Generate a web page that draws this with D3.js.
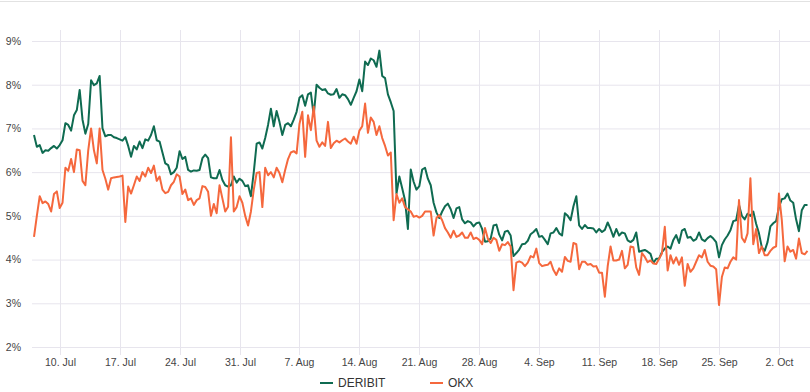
<!DOCTYPE html>
<html>
<head>
<meta charset="utf-8">
<script src="https://cdn.jsdelivr.net/npm/d3@7/dist/d3.min.js"></script>
<style>
  body { margin: 0; background: #fff; }
  svg { display: block; font-family: "Liberation Sans", Arial, sans-serif; }
  .grid line { stroke: #e7e5ed; stroke-width: 1; }
  .axis .domain { display: none; }
  .axis line { stroke: #e7e5ed; }
  .axis text { fill: #444; font-size: 10.5px; }
  .legend text { fill: #333; font-size: 12px; }
</style>
</head>
<body>
<div id="output-section"></div>
<script>
// series start, one value every 8 hours
const startDate = "2023-07-07 00:00";
const stepHours = 8;

const tickDates = ["2023-07-10", "2023-07-17", "2023-07-24", "2023-07-31", "2023-08-07",
  "2023-08-14", "2023-08-21", "2023-08-28", "2023-09-04", "2023-09-11", "2023-09-18",
  "2023-09-25", "2023-10-02"];
const yTicks = [2, 3, 4, 5, 6, 7, 8, 9];

const seriesNames = ["DERIBIT", "OKX"];
const seriesColors = ["#0f6b51", "#f5683d"];

// one row per week
const deribit = [
  6.85,6.58,6.62, 6.44,6.50,6.49, 6.55,6.60,6.54, 6.62,6.73,7.12, 7.08,6.95,7.30, 7.42,7.88,7.20, 6.88,7.10,8.10,
  7.99,8.03,8.20, 7.00,6.82,6.85, 6.85,6.80,6.78, 6.75,6.72,6.80, 6.60,6.35,6.60, 6.52,6.70,6.55, 6.75,6.72,6.85,
  7.05,6.73,6.70, 6.45,6.20,6.16, 5.95,6.00,6.10, 6.48,6.30,6.35, 6.05,6.01,6.04, 6.03,6.05,6.32, 6.40,6.32,5.88,
  5.86,5.86,6.05, 5.82,5.70,5.67, 5.70,5.90,5.76, 5.85,5.80,5.68, 5.70,5.45,6.00, 6.65,6.68,6.54, 6.78,7.08,7.45,
  7.05,7.40,7.15, 6.85,7.08,7.12, 7.05,7.20,7.38, 7.70,7.76,7.52, 7.78,7.82,7.30, 8.00,7.93,7.88, 7.90,7.80,7.77,
  7.78,7.90,7.70, 7.78,7.76,7.67, 7.54,7.70,7.85, 8.12,7.85,8.53, 8.45,8.60,8.56, 8.41,8.78,8.20, 8.15,7.78,7.60,
  7.40,5.51,5.90, 5.63,5.35,4.70, 6.06,5.78,5.60, 5.68,6.06,6.10, 5.85,5.70,5.30, 5.08,4.95,5.10, 5.22,5.28,5.15,
  4.95,5.17,5.20, 4.92,4.83,4.88, 4.85,4.76,4.83, 4.85,4.70,4.41, 4.42,4.48,4.78, 4.80,4.57,4.44, 4.64,4.66,4.55,
  4.08,4.15,4.23, 4.35,4.36,4.43, 4.58,4.63,4.70, 4.52,4.54,4.45, 4.35,4.60,4.62, 4.72,4.60,4.55, 5.06,5.00,4.90,
  5.22,5.45,4.78, 4.70,4.79,4.72, 4.72,4.71,4.62, 4.70,4.63,4.68, 4.85,4.70,4.52, 4.70,4.55,4.62, 4.60,4.44,4.40,
  4.45,4.62,4.18, 4.20,4.22,4.18, 4.13,3.92,4.02, 4.02,4.17,4.25, 4.30,4.25,4.45, 4.56,4.38,4.66, 4.70,4.50,4.52,
  4.43,4.47,4.62, 4.46,4.42,4.49, 4.54,4.48,4.40, 4.05,4.33,4.46, 4.55,4.67,4.88, 4.90,5.25,5.00, 4.92,5.05,5.00,
  5.10,4.82,4.60, 4.28,4.20,4.40, 4.76,4.83,4.88, 5.20,5.38,5.40, 5.51,5.35,5.30, 4.92,4.65,5.13, 5.25,5.25
];

const okx = [
  4.52,5.00,5.45, 5.29,5.33,5.27, 5.10,5.50,5.56, 5.18,5.30,6.10, 6.03,6.30,6.00, 6.52,6.50,5.80, 5.70,6.50,7.00,
  6.50,6.20,7.00, 6.05,5.85,5.60, 5.86,5.88,5.89, 5.90,5.92,4.86, 5.67,5.51,5.70, 5.90,5.80,6.00, 5.90,6.10,5.98,
  6.15,5.80,5.90, 5.60,5.52,5.55, 5.70,5.78,5.95, 5.90,5.50,5.60, 5.36,5.40,5.25, 5.36,5.40,5.68, 5.66,5.55,5.00,
  5.27,5.06,5.70, 5.40,5.10,5.21, 6.80,5.10,5.20, 5.45,5.30,5.00, 4.78,5.10,5.60, 5.98,6.00,5.20, 6.10,5.93,6.00,
  5.88,6.10,5.98, 5.77,6.05,6.30, 6.45,6.48,6.43, 7.10,7.38,6.35, 7.30,6.96,7.50, 6.72,6.58,6.68, 6.60,7.15,6.55,
  6.66,6.72,6.68, 6.73,6.77,6.70, 6.65,6.81,6.65, 6.95,7.05,7.57, 6.90,7.25,7.15, 6.85,7.05,6.78, 6.60,6.38,6.45,
  4.90,5.50,5.30, 5.40,5.20,5.15, 5.10,4.98,5.00, 4.96,5.00,5.10, 5.10,5.10,4.55, 4.95,5.02,4.90, 4.72,4.62,4.50,
  4.66,4.52,4.55, 4.62,4.50,4.50, 4.62,4.47,4.50, 4.45,4.35,4.72, 4.48,4.38,4.50, 4.45,4.20,4.35, 4.33,4.40,4.30,
  3.30,3.93,3.96, 3.93,3.85,3.93, 4.08,4.05,4.25, 3.92,3.85,3.87, 3.88,3.95,3.76, 3.65,3.80,3.72, 4.06,3.97,3.95,
  4.38,4.35,3.78, 3.95,3.95,3.88, 3.90,3.84,3.85, 3.70,3.70,3.15, 3.85,4.30,3.98, 3.98,4.00,4.20, 3.80,3.88,4.30,
  4.28,3.82,3.65, 4.15,4.06,3.94, 3.98,3.91,3.90, 4.02,4.14,4.75, 3.75,4.10,3.91, 4.05,3.88,4.05, 3.40,3.90,3.72,
  3.80,3.95,4.10, 4.05,4.22,3.95, 3.86,3.84,3.78, 2.96,3.60,3.82, 3.80,3.95,4.05, 4.00,5.36,4.50, 4.40,4.60,5.86,
  4.35,4.70,4.15, 4.30,4.10,4.10, 4.20,4.27,4.30, 5.51,4.90,3.96, 4.30,4.18,4.22, 4.02,4.48,4.15, 4.12,4.20
];

function plotChart(){
  let svg = d3.select("#output-section").append("svg")
    .attr("width", 810)
    .attr("height", 392);

  svg.append("rect")
    .attr("width", "100%")
    .attr("height", "100%")
    .attr("fill", "white");

  // faint frame line on top
  svg.append("line")
    .attr("x1", 0).attr("x2", 810)
    .attr("y1", 1.5).attr("y2", 1.5)
    .attr("stroke", "#e2e2e2");

  let plot = { left: 32, right: 810, top: 30, bottom: 347 };

  let t0 = d3.timeParse("%Y-%m-%d %H:%M")(startDate);
  let dates = deribit.map((d, i) => d3.timeHour.offset(t0, i * stepHours));
  let ticks = tickDates.map(d3.timeParse("%Y-%m-%d"));

  let x = d3.scaleTime()
    .domain(d3.extent(dates))
    .range([34, 807.5]);
  let y = d3.scaleLinear()
    .domain([2, 9])
    .range([347, 41]);

  // horizontal grid
  svg.append("g")
    .attr("class", "grid")
    .selectAll("line")
    .data(yTicks)
    .enter().append("line")
      .attr("x1", plot.left)
      .attr("x2", plot.right)
      .attr("y1", d => y(d) + 0.5)
      .attr("y2", d => y(d) + 0.5)
      .attr("stroke", d => d === 2 ? "#dddbe5" : null);

  // vertical grid
  svg.append("g")
    .attr("class", "grid")
    .selectAll("line")
    .data(ticks)
    .enter().append("line")
      .attr("x1", d => Math.round(x(d)) + 0.5)
      .attr("x2", d => Math.round(x(d)) + 0.5)
      .attr("y1", plot.top)
      .attr("y2", plot.bottom);

  // x axis
  svg.append("g")
    .attr("class", "axis axis--x")
    .attr("transform", "translate(0," + plot.bottom + ")")
    .call(d3.axisBottom(x)
      .tickValues(ticks)
      .tickSize(8)
      .tickPadding(4)
      .tickFormat(d3.timeFormat("%-d. %b")))
    .selectAll(".tick")
      .attr("transform", d => "translate(" + (Math.round(x(d)) + 0.5) + ",0)");

  // y axis labels
  svg.append("g")
    .attr("class", "axis axis--y")
    .attr("transform", "translate(21,0)")
    .call(d3.axisLeft(y)
      .tickValues(yTicks)
      .tickSize(0)
      .tickPadding(0)
      .tickFormat(d => d + "%"))
    .selectAll("text")
      .attr("fill", "#555");

  // lines
  let line = d3.line()
    .x((d, i) => x(dates[i]))
    .y(d => y(d));

  [deribit, okx].forEach((series, k) => {
    svg.append("path")
      .datum(series)
      .attr("fill", "none")
      .attr("stroke", seriesColors[k])
      .attr("stroke-width", 2)
      .attr("stroke-linejoin", "round")
      .attr("d", line);
  });

  // legend
  let legendX = [320, 430];
  let legend = svg.append("g").attr("class", "legend");
  seriesNames.forEach((name, k) => {
    legend.append("line")
      .attr("x1", legendX[k]).attr("x2", legendX[k] + 13)
      .attr("y1", 383).attr("y2", 383)
      .attr("stroke", seriesColors[k])
      .attr("stroke-width", 2);
    legend.append("text")
      .attr("x", legendX[k] + 18)
      .attr("y", 387)
      .text(name);
  });
}

plotChart();
</script>
</body>
</html>
